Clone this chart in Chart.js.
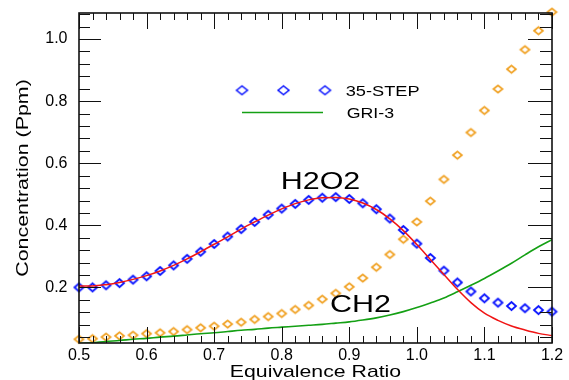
<!DOCTYPE html>
<html><head><meta charset="utf-8">
<script src="https://cdn.jsdelivr.net/npm/chart.js@4"></script>
<style>html,body{margin:0;padding:0;background:#fff}canvas{display:block}</style>
</head><body>
<canvas id="c" width="569" height="380"></canvas>
<script>
const ratio = [0.50,0.52,0.54,0.56,0.58,0.60,0.62,0.64,0.66,0.68,0.70,0.72,0.74,0.76,0.78,0.80,0.82,0.84,0.86,0.88,0.90,0.92,0.94,0.96,0.98,1.00,1.02,1.04,1.06,1.08,1.10,1.12,1.14,1.16,1.18,1.20];
const step35H2O2 = [0.200,0.200,0.207,0.214,0.225,0.236,0.253,0.271,0.292,0.315,0.340,0.364,0.388,0.411,0.434,0.454,0.469,0.482,0.489,0.491,0.485,0.471,0.452,0.422,0.385,0.341,0.295,0.254,0.216,0.187,0.165,0.151,0.140,0.133,0.127,0.122];
const gri3H2O2 = [0.205,0.205,0.209,0.216,0.226,0.238,0.253,0.271,0.292,0.315,0.339,0.363,0.388,0.411,0.433,0.453,0.470,0.482,0.489,0.490,0.485,0.472,0.451,0.421,0.383,0.338,0.290,0.242,0.194,0.151,0.117,0.094,0.076,0.063,0.052,0.045];
const step35CH2 = [0.033,0.035,0.040,0.044,0.046,0.051,0.054,0.058,0.064,0.070,0.075,0.082,0.088,0.097,0.106,0.116,0.129,0.142,0.162,0.181,0.202,0.230,0.265,0.306,0.355,0.411,0.478,0.548,0.626,0.699,0.770,0.839,0.903,0.966,1.027,1.087];
const gri3CH2 = [0.019,0.022,0.026,0.029,0.033,0.036,0.040,0.043,0.047,0.051,0.054,0.058,0.062,0.065,0.069,0.072,0.075,0.078,0.081,0.085,0.089,0.095,0.102,0.111,0.122,0.135,0.150,0.166,0.186,0.207,0.229,0.253,0.278,0.305,0.331,0.354];

const xTickLabels = [0.5,0.6,0.7,0.8,0.9,1.0,1.1,1.2];
const yTickLabels = [0.2,0.4,0.6,0.8,1.0];
const legendNames = ['35-STEP','GRI-3'];
const speciesNames = ['H2O2','CH2'];
const xTitle = 'Equivalence Ratio';
const yTitle = 'Concentration (Ppm)';

const BLUE = '#0a14ff', ORANGE = '#f0a020', RED = '#f01414', GREEN = '#14a014';
const FONT = '"Liberation Sans", Arial, Helvetica, sans-serif';

function diamond(color, w, h, lw) {
  const c = document.createElement('canvas');
  c.width = Math.ceil(w + lw + 2); c.height = Math.ceil(h + lw + 2);
  const g = c.getContext('2d');
  const cx = c.width / 2, cy = c.height / 2;
  g.strokeStyle = color; g.lineWidth = lw; g.lineJoin = 'miter';
  g.beginPath();
  g.moveTo(cx - w / 2, cy); g.lineTo(cx, cy - h / 2); g.lineTo(cx + w / 2, cy); g.lineTo(cx, cy + h / 2);
  g.closePath(); g.stroke();
  return c;
}
const blueD = diamond(BLUE, 9, 8, 1.8);
const orangeD = diamond(ORANGE, 9, 7.5, 1.7);
const legendD = diamond(BLUE, 11, 8.5, 1.5);

function stretchText(ctx, text, x, y, size, sx, align, rot) {
  ctx.save();
  ctx.translate(x, y);
  if (rot) ctx.rotate(rot);
  ctx.scale(sx, 1);
  ctx.font = size + 'px ' + FONT;
  ctx.textAlign = align; ctx.textBaseline = 'alphabetic';
  ctx.fillStyle = '#000';
  ctx.fillText(text, 0, 0);
  ctx.restore();
}

function drawTicks(chart) {
  const ctx = chart.ctx, a = chart.chartArea, xs = chart.scales.x, ys = chart.scales.y;
  ctx.save();
  ctx.fillStyle = '#111';
  for (let i = 25; i <= 60; i++) {
    const v = i / 50; const major = (i % 5 === 0);
    const L = major ? 16 : 7;
    const px = Math.round(xs.getPixelForValue(v));
    ctx.fillRect(px, a.bottom - L, 1, L);
    ctx.fillRect(px, a.top, 1, L);
  }
  for (let i = 1; i <= 27; i++) {
    const v = i / 25; if (v < ys.min || v > ys.max) continue;
    const major = (i % 5 === 0);
    const L = major ? 22 : 11;
    const py = Math.round(ys.getPixelForValue(v));
    ctx.fillRect(a.left, py, L, 1);
    const R = L + (major ? 2 : 1);
    ctx.fillRect(a.right - R, py, R, 1);
  }
  ctx.strokeStyle = '#111';
  ctx.lineWidth = 1.6;
  ctx.strokeRect(a.left, a.top, a.right - a.left, a.bottom - a.top);
  ctx.restore();
}

const framePlugin = {
  id: 'frameTicks',
  afterDatasetsDraw(chart) { drawTicks(chart); }
};

const textPlugin = {
  id: 'texts',
  afterDraw(chart) {
    const ctx = chart.ctx, a = chart.chartArea;
    stretchText(ctx, xTitle, (a.left + a.right) / 2, 377.3, 17, 1.25, 'center');
    stretchText(ctx, yTitle, 28.3, (a.top + a.bottom) / 2, 17, 1.26, 'center', -Math.PI / 2);
    stretchText(ctx, speciesNames[0], 280.7, 189.3, 24, 1.27, 'left');
    stretchText(ctx, speciesNames[1], 330, 312.3, 24, 1.27, 'left');
    [242, 283.5, 325].forEach(x => ctx.drawImage(legendD, x - legendD.width / 2, 90.3 - legendD.height / 2));
    ctx.save();
    ctx.strokeStyle = GREEN; ctx.lineWidth = 1.5;
    ctx.beginPath(); ctx.moveTo(242, 112.5); ctx.lineTo(323, 112.5); ctx.stroke();
    ctx.restore();
    stretchText(ctx, legendNames[0], 345.7, 95.7, 14, 1.3, 'left');
    stretchText(ctx, legendNames[1], 346.7, 117.7, 14, 1.27, 'left');
  }
};

const pts = ys => ratio.map((x, i) => ({ x: x, y: ys[i] }));

new Chart(document.getElementById('c').getContext('2d'), {
  type: 'scatter',
  data: {
    datasets: [
      { label: 'GRI-3 H2O2', data: pts(gri3H2O2), showLine: true, borderColor: RED, borderWidth: 1.5, pointRadius: 0, cubicInterpolationMode: 'monotone', fill: false },
      { label: 'GRI-3 CH2', data: pts(gri3CH2), showLine: true, borderColor: GREEN, borderWidth: 1.6, pointRadius: 0, cubicInterpolationMode: 'monotone', fill: false },
      { label: '35-STEP H2O2', data: pts(step35H2O2), showLine: false, pointStyle: blueD, pointRadius: 4, clip: false },
      { label: '35-STEP CH2', data: pts(step35CH2), showLine: false, pointStyle: orangeD, pointRadius: 4, clip: false }
    ]
  },
  options: {
    responsive: false, animation: false, devicePixelRatio: 1, events: [],
    layout: { padding: { top: 13, right: 17, left: 0, bottom: 0 } },
    plugins: { legend: { display: false }, tooltip: { enabled: false } },
    scales: {
      x: {
        type: 'linear', min: 0.5, max: 1.2,
        grid: { display: false, drawTicks: false }, border: { display: false },
        afterBuildTicks: s => { s.ticks = xTickLabels.map(v => ({ value: v })); },
        afterFit: s => { s.height = 37; s.paddingLeft = 0; s.paddingRight = 0; },
        ticks: { font: { family: FONT, size: 16 }, color: '#000', padding: 3, maxRotation: 0, autoSkip: false, callback: v => v.toFixed(1) }
      },
      y: {
        type: 'linear', min: 0.021, max: 1.084,
        grid: { display: false, drawTicks: false }, border: { display: false },
        afterBuildTicks: s => { s.ticks = yTickLabels.map(v => ({ value: v })); },
        afterFit: s => { s.width = 79; s.paddingTop = 0; s.paddingBottom = 0; },
        ticks: { font: { family: FONT, size: 16 }, color: '#000', padding: 11.5, autoSkip: false, callback: v => v.toFixed(1) }
      }
    }
  },
  plugins: [framePlugin, textPlugin]
});
</script>
</body></html>
